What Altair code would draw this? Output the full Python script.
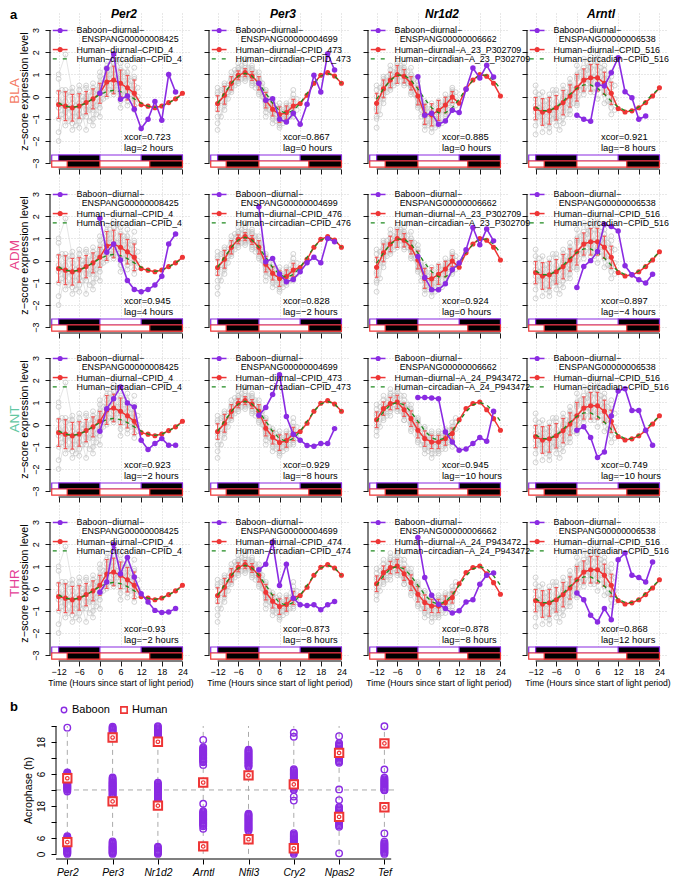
import altair as alt
import pandas as pd

FONT = "Liberation Sans"
PURPLE = "#8A2BE2"
RED = "#EE3535"
RED_ERR = "#F05A5A"
GREEN = "#1F8A1F"
GREY_PT = "#C2C2C2"
GREY_LN = "#DADADA"
GRID = "#C4C4C4"

# ---------------- panel a data ----------------
regions = ["BLA", "ADM", "ANT", "THR"]
region_colors = ["#F47A63", "#E8458B", "#62C7A2", "#E33D96"]
genes = ["Per2", "Per3", "Nr1d2", "Arntl"]
baboon_ids = ["ENSPANG00000008425", "ENSPANG00000004699", "ENSPANG00000006662", "ENSPANG00000006538"]
human_ids = [
    ["CPID_4", "CPID_473", "A_23_P302709", "CPID_516"],
    ["CPID_4", "CPID_476", "A_23_P302709", "CPID_516"],
    ["CPID_4", "CPID_473", "A_24_P943472", "CPID_516"],
    ["CPID_4", "CPID_474", "A_24_P943472", "CPID_516"],
]
probe_alias = {"CPID_476": "CPID_473", "CPID_474": "CPID_473"}

hours_h = [-12, -10, -8, -6, -4, -2, 0, 2, 4, 6, 8, 10]
hours_odd = [-11, -9, -7, -5, -3, -1, 1, 3, 5, 7, 9, 11]
hours_fit = [-12, -10, -8, -6, -4, -2, 0, 2, 4, 6, 8, 10, 12, 14, 16, 18, 20, 22, 24]
hours_b = [0, 2, 4, 6, 8, 10, 12, 14, 16, 18, 20, 22]
x_ticks = [-12, -6, 0, 6, 12, 18, 24]
y_ticks = [-3, -2, -1, 0, 1, 2, 3]

human_mean = {
    "CPID_4": [-0.36, -0.43, -0.5, -0.42, -0.27, -0.1, 0.15, 0.66, 0.75, 0.6, 0.4, 0.15],
    "CPID_473": [-0.31, 0.06, 0.6, 0.96, 1.08, 0.93, 0.6, -0.16, -0.57, -0.81, -0.72, -0.42],
    "A_23_P302709": [-0.3, 0.35, 0.75, 1.0, 0.92, 0.6, 0.03, -0.8, -0.82, -0.62, -0.38, -0.02],
    "A_24_P943472": [0.22, 0.72, 0.95, 1.02, 0.67, 0.27, -0.25, -0.63, -0.78, -0.78, -0.63, -0.4],
    "CPID_516": [-0.54, -0.69, -0.64, -0.5, -0.27, 0.03, 0.4, 0.75, 0.85, 0.85, 0.6, 0.15],
}
human_sd = {
    "CPID_4": [0.62, 0.65, 0.6, 0.55, 0.5, 0.45, 0.45, 0.65, 0.62, 0.6, 0.55, 0.6],
    "CPID_473": [0.35, 0.4, 0.3, 0.2, 0.18, 0.2, 0.3, 0.35, 0.3, 0.35, 0.3, 0.3],
    "A_23_P302709": [0.45, 0.4, 0.35, 0.4, 0.3, 0.3, 0.4, 0.45, 0.5, 0.45, 0.35, 0.25],
    "A_24_P943472": [0.35, 0.3, 0.28, 0.3, 0.3, 0.35, 0.35, 0.35, 0.3, 0.3, 0.3, 0.25],
    "CPID_516": [0.5, 0.6, 0.6, 0.55, 0.55, 0.5, 0.6, 0.5, 0.6, 0.6, 0.5, 0.5],
}
human_fit = {
    "CPID_4": [-0.29, -0.43, -0.48, -0.43, -0.29, -0.1, 0.09, 0.23, 0.28, 0.23, 0.09, -0.1, -0.29, -0.43, -0.48, -0.43, -0.29, -0.1, 0.09],
    "CPID_473": [-0.3, 0.15, 0.6, 0.93, 1.05, 0.93, 0.6, 0.15, -0.3, -0.63, -0.75, -0.63, -0.3, 0.15, 0.6, 0.93, 1.05, 0.93, 0.6],
    "A_23_P302709": [-0.11, 0.35, 0.74, 0.97, 0.97, 0.74, 0.35, -0.11, -0.5, -0.73, -0.73, -0.5, -0.11, 0.35, 0.74, 0.97, 0.97, 0.74, 0.35],
    "A_24_P943472": [0.15, 0.58, 0.89, 1.0, 0.89, 0.58, 0.15, -0.28, -0.59, -0.7, -0.59, -0.28, 0.15, 0.58, 0.89, 1.0, 0.89, 0.58, 0.15],
    "CPID_516": [-0.47, -0.63, -0.63, -0.47, -0.21, 0.11, 0.37, 0.53, 0.53, 0.37, 0.11, -0.21, -0.47, -0.63, -0.63, -0.47, -0.21, 0.11, 0.37],
}
grey_sets = {
    "CPID_4": [
        [0.2, -0.9, -0.3, -1.1, 0.4, -0.6, 0.9, 1.6, 0.3, 1.2, -0.2, 0.8],
        [-1.0, 0.3, -1.2, 0.1, -0.9, 0.6, -0.5, 0.2, 1.5, 0.1, 1.1, -0.4],
        [-0.5, -0.2, 0.4, -0.8, -0.1, -0.3, 0.5, 1.1, 0.9, -0.2, 0.6, 1.3],
        [0.8, -1.3, -0.7, -0.3, -1.5, 0.2, -0.2, 0.5, 1.8, 0.9, -0.4, 0.2],
        [-1.6, 0.1, -0.9, 0.5, 0.0, -1.0, 0.6, 0.0, 0.6, 1.5, 0.9, -0.6],
        [-0.2, -0.7, -1.5, -0.6, -0.4, 0.4, -0.9, 1.3, 0.1, 0.5, 0.2, 0.5],
        [1.0, 1.9, 0.2, -1.4, -0.6, -0.5, 1.1, 0.8, 1.2, -0.5, 1.4, -0.1],
        [-2.0, -0.6, -0.1, 0.3, 0.5, -1.3, 0.2, 0.6, 0.2, 1.0, 0.0, 0.9],
    ],
    "CPID_473": [
        [-0.9, 0.5, 0.9, 1.3, 1.5, 1.2, 0.2, -0.5, -0.9, -1.3, -0.3, -0.8],
        [0.2, -0.4, 0.3, 0.7, 0.8, 1.4, 0.9, 0.2, -0.2, -0.6, -1.1, -0.1],
        [-0.6, 0.3, 1.1, 1.2, 0.9, 0.6, 0.4, -0.4, -1.0, -0.7, -0.6, -0.7],
        [-1.2, -0.3, 0.4, 0.8, 1.3, 1.0, 1.1, 0.3, -0.6, -1.2, -0.9, 0.1],
        [0.1, 0.6, 0.6, 1.5, 1.1, 0.7, 0.5, -0.7, -0.3, -0.5, -0.5, -0.5],
        [-0.4, -0.6, 0.8, 0.9, 1.7, 0.9, 0.1, 0.0, -1.2, -0.9, -1.0, -0.9],
        [-1.5, 0.0, 0.2, 1.1, 0.7, 1.3, 0.8, -0.3, -0.5, -1.4, -0.4, 0.3],
        [0.4, 0.2, 0.5, 0.6, 1.2, 0.5, 0.7, -0.9, -0.7, -0.3, -0.8, -0.3],
    ],
    "A_23_P302709": [
        [-0.9, 0.8, 1.2, 1.4, 1.3, 0.9, -0.4, -1.2, -1.4, -1.0, 0.1, -0.5],
        [0.3, -0.1, 0.4, 0.6, 1.5, 0.2, 0.5, -0.4, -0.5, -1.3, -0.8, 0.4],
        [-0.6, 0.5, 1.0, 1.2, 0.6, 1.0, 0.2, -1.3, -1.1, -0.3, -0.5, -0.3],
        [-1.4, 0.1, 0.6, 1.5, 0.9, 0.4, -0.3, -0.6, -1.6, -0.8, -0.1, 0.2],
        [0.0, 0.9, 0.3, 0.8, 1.2, 1.3, 0.4, -0.9, -0.3, -0.5, -0.9, -0.6],
        [-0.5, -0.3, 1.4, 0.7, 0.5, 0.5, -0.5, -0.2, -0.9, -1.1, -0.3, 0.3],
        [-1.0, 0.6, 0.8, 1.1, 1.1, 0.1, 0.7, -1.5, -0.7, -0.2, -0.6, -0.2],
        [0.5, 0.2, 0.5, 0.9, 0.7, 0.8, -0.1, -0.5, -1.2, -0.9, -0.2, 0.1],
    ],
    "A_24_P943472": [
        [0.7, 1.1, 1.3, 1.5, 0.2, 0.6, -0.7, -1.0, -1.3, -0.4, -0.9, 0.1],
        [-0.3, 0.3, 0.6, 0.7, 1.1, -0.2, 0.2, -0.2, -0.5, -1.2, -0.3, -0.8],
        [0.4, 0.9, 1.4, 1.2, 0.9, 0.7, -0.5, -1.1, -0.9, -0.6, -1.1, -0.2],
        [-0.5, 0.6, 0.8, 0.8, 0.4, 0.1, 0.3, -0.4, -1.5, -0.9, -0.4, -0.6],
        [0.9, 1.3, 0.7, 1.6, 1.3, 0.9, -0.2, -0.9, -0.3, -1.3, -0.2, -0.1],
        [0.1, 0.2, 1.1, 0.6, 0.5, -0.3, -0.8, -0.6, -0.7, -0.5, -0.8, -1.0],
        [-0.1, 0.8, 1.6, 1.3, 0.8, 0.4, 0.1, -0.1, -1.1, -0.3, -0.6, -0.5],
        [0.5, 0.5, 0.4, 1.0, 0.2, 0.0, -0.4, -1.3, -0.4, -1.1, -0.5, -0.3],
    ],
    "CPID_516": [
        [0.2, -1.2, -0.1, -1.0, 0.5, -0.6, 1.0, 1.3, 0.2, 1.6, 0.1, 0.9],
        [-1.3, -0.2, -1.4, 0.1, -0.9, 0.8, -0.3, 0.4, 1.5, 0.3, 1.2, -0.5],
        [-0.7, -0.9, 0.1, -0.6, -0.1, -0.2, 0.8, 1.7, 0.9, 0.6, 1.4, 0.6],
        [0.5, -1.6, -0.9, -0.2, -1.2, 0.5, -0.4, 0.3, 1.8, 1.2, -0.3, -0.2],
        [-1.7, 0.2, -1.2, -0.9, 0.3, -0.8, 0.9, 0.9, 0.4, 1.9, 0.8, 1.1],
        [-0.1, -0.6, -0.3, -1.3, -0.5, 0.6, 0.2, 1.1, 1.3, -0.1, 0.2, -0.8],
        [-1.0, -0.4, -1.6, 0.3, 0.0, -0.4, 1.4, 0.1, 0.7, 1.0, 1.0, 0.4],
        [-0.4, -1.1, -0.5, -0.8, -0.7, 0.2, 0.0, 0.8, 0.6, 0.5, 0.6, -0.3],
    ],
}
grey_sets_odd = {
    "CPID_4": [
        [-0.8, 0.2, -0.9, -0.2, -0.6, 0.3, 0.4, 1.0, 0.8, 0.1, 0.7, -0.3],
        [0.3, -1.1, -0.4, -0.9, 0.2, -0.4, -0.1, 1.4, 0.5, 1.1, -0.1, 0.4],
        [-0.4, -0.5, -1.3, 0.0, -1.1, -0.8, 0.8, 0.3, 1.6, 0.7, 0.3, 0.0],
    ],
    "CPID_473": [
        [-0.2, 0.4, 0.9, 1.4, 1.0, 0.7, 0.3, -0.3, -0.8, -1.0, -0.6, -0.1],
        [-0.9, -0.1, 0.5, 0.8, 1.3, 1.1, 0.0, -0.6, -1.1, -0.7, -0.9, -0.6],
        [0.3, 0.2, 1.2, 1.0, 0.9, 0.4, 0.6, -0.1, -0.4, -1.2, -0.4, -0.4],
    ],
    "A_23_P302709": [
        [-0.1, 0.6, 0.9, 1.3, 0.8, 0.4, -0.6, -1.0, -0.7, -0.6, -0.3, 0.2],
        [0.4, 0.2, 1.1, 0.9, 1.1, 0.8, -0.2, -1.3, -1.0, -1.2, -0.6, -0.4],
        [-0.8, 0.9, 0.5, 1.4, 0.6, 0.1, -0.9, -0.7, -1.4, -0.4, -0.1, 0.0],
    ],
    "A_24_P943472": [
        [0.5, 0.7, 1.2, 0.9, 0.5, -0.1, -0.5, -0.8, -1.0, -0.7, -0.3, 0.3],
        [-0.1, 1.0, 0.9, 1.3, 0.7, 0.3, -0.2, -1.2, -0.6, -1.1, -0.8, -0.2],
        [0.8, 0.4, 1.3, 0.6, 0.9, 0.0, -0.9, -0.5, -1.3, -0.4, -0.6, 0.1],
    ],
    "CPID_516": [
        [-0.9, -0.2, -1.0, -0.4, 0.2, 0.3, 0.5, 1.2, 0.9, 0.4, 0.2, -0.1],
        [0.1, -1.3, -0.6, -1.1, -0.5, 0.0, 1.1, 0.6, 1.4, 0.9, 0.8, 0.5],
        [-0.5, -0.7, 0.3, -1.5, -0.8, -0.3, 0.3, 1.5, 0.2, 1.3, -0.2, -0.6],
    ],
}
baboon = [
    [  # BLA
        [0.15, 1.27, 1.93, -0.12, 0.03, -0.57, -1.44, -1.02, -0.22, -1.06, 1.0, 0.21],
        [0.6, -0.16, -0.09, -1.02, -1.14, -0.75, -1.24, -0.34, 0.96, 0.21, 1.93, 1.2],
        [0.9, -0.84, -0.75, -1.24, -1.1, -0.61, -0.72, 0.33, 1.29, 0.84, 1.41, 0.88],
        [-0.84, -1.02, -1.11, 0.55, 0.48, 1.08, 1.75, 0.22, -0.05, -1.02, -0.87],
    ],
    [  # ADM
        [1.91, 0.38, 0.75, 0.03, -0.9, -1.3, -1.4, -1.3, -1.1, -0.7, 0.75, 1.2],
        [2.43, -0.05, 0.1, -0.6, -0.95, -0.85, -0.5, -0.1, 0.15, -0.1, 1.0, 0.85],
        [0.19, -0.76, -1.31, -1.31, -1.04, -0.41, -0.11, 0.49, 1.49, 0.71, 1.43, 0.89],
        [-1.21, -0.26, 0.0, 0.41, 1.64, 1.54, 1.34, -0.23, -0.64, -0.86, -1.01, -0.61],
    ],
    [  # ANT
        [-0.3, 0.72, 1.17, 1.7, 0.97, 0.8, -0.7, -1.12, -0.85, -0.63, -0.93, -0.93],
        [0.42, 0.77, 1.36, 2.25, 0.37, -0.43, -0.7, -0.94, -0.97, -0.85, -0.85, -0.18],
        [1.22, 1.22, 1.2, 1.17, -0.33, -0.78, -1.15, -1.1, -0.85, -0.58, -0.75, 0.6],
        [-0.25, -0.1, -0.58, -1.48, -1.23, 0.39, 1.51, 1.62, 0.64, 0.64, -0.25, -0.93],
    ],
    [  # THR
        [-0.16, 0.3, 2.0, 0.67, 1.4, 0.52, -0.23, -0.6, -0.98, -1.08, -1.05, -0.9],
        [0.85, 1.1, 2.1, 0.14, 1.1, -0.43, -0.73, -0.76, -0.73, -0.95, -0.73, -0.58],
        [2.3, 0.5, -0.3, -0.7, -0.9, -1.1, -1.0, -0.6, -0.5, 0.2, 0.6, 0.7],
        [-0.2, -0.5, -1.2, -1.5, -0.9, -1.4, 1.3, 1.6, 0.6, 0.5, 0.3, 1.2],
    ],
]
xcor = [
    ["0.723", "0.867", "0.885", "0.921"],
    ["0.945", "0.828", "0.924", "0.897"],
    ["0.923", "0.929", "0.945", "0.749"],
    ["0.93", "0.873", "0.878", "0.868"],
]
lag = [[2, 0, 0, -8], [4, -2, 0, -4], [-2, -8, -10, -10], [-2, -8, -8, 12]]

bar_span = (-14, 24)
baboon_dark = [(-12, 0), (12, 24)]
human_dark = [(-9.5, 0), (14.5, 24)]

# ---------------- panel b data ----------------
b_genes = ["Per2", "Per3", "Nr1d2", "Arntl", "Nfil3", "Cry2", "Npas2", "Tef"]
baboon_acro = {
    "Per2": [0.0, 0.3, 0.6, 0.9, 1.2, 1.5, 1.8, 2.1, 2.4, 2.7, 3.0, 3.3, 3.6, 3.9, 4.2, 4.5, 4.8, 5.1, 5.4, 5.7, 6.0, 6.3, 6.6, 23.4],
    "Per3": [0.0, 0.3, 0.6, 0.9, 1.2, 1.5, 1.8, 2.1, 2.4, 2.7, 3.0, 3.4, 3.8, 4.2, 4.7, 21.3, 21.8, 22.2, 22.6, 23.0, 23.4, 23.8],
    "Nr1d2": [0.0, 0.3, 0.6, 0.9, 1.2, 1.5, 1.9, 2.3, 2.7, 19.6, 20.0, 20.4, 20.8, 21.2, 21.6, 22.0, 22.4, 22.8, 23.2, 23.6, 23.9],
    "Arntl": [9.4, 10.4, 10.8, 11.2, 11.6, 12.0, 12.4, 12.8, 13.2, 13.6, 14.0, 14.4, 14.8, 15.2, 15.6, 16.0, 18.8],
    "Nfil3": [8.7, 9.1, 9.5, 9.9, 10.3, 10.7, 11.1, 11.5, 11.9, 12.3, 12.7, 13.1, 13.5, 13.9, 14.3, 14.7, 15.1],
    "Cry2": [0.0, 0.4, 0.8, 1.2, 1.6, 2.0, 2.4, 2.8, 3.2, 3.6, 4.0, 4.4, 4.8, 5.2, 5.6, 6.0, 6.4, 6.8, 7.3, 7.8, 20.0, 21.5],
    "Npas2": [0.2, 10.2, 10.7, 11.2, 11.7, 12.2, 12.7, 13.2, 13.7, 14.2, 14.7, 15.2, 15.7, 16.2, 16.7, 17.2, 17.6, 20.2],
    "Tef": [0.0, 0.4, 0.8, 1.2, 1.6, 2.0, 2.4, 2.8, 3.2, 3.6, 4.0, 4.6, 7.7, 23.9],
}
human_acro = [4.4, 19.7, 18.1, 2.8, 5.5, 2.1, 13.9, 17.5]
b_y_ticks = [0, 6, 12, 18, 24, 30, 36, 42, 48]
b_y_labels = ["0", "6", "", "18", "", "6", "", "18", ""]

# ---------------- layout ----------------
PXY = 22.2
PXH = 3.44
W, H = 141, 156
XMIN = -14.5
XMAX = XMIN + W / PXH
YMIN = -3.26
YMAX = YMIN + H / PXY
COL_SP, ROW_SP = 18, 8

WB = 345
PXB_X = 45.3
XB_MIN = 0.618
XB_MAX = XB_MIN + WB / PXB_X
PXB = 2.667
YB_MIN = -1.92
YB_MAX = 57.4
HB = round((YB_MAX - YB_MIN) * PXB)
YB_AX = XB_MIN + 6 / PXB_X
B_SPACING = 13

LEG_FS = 8.9
STAT_FS = 9.4

xs = alt.Scale(domain=[XMIN, XMAX], nice=False, zero=False)
ys = alt.Scale(domain=[YMIN, YMAX], nice=False, zero=False)
MINUS = "\u2212"


def fmt_lag(v):
    return (MINUS if v < 0 else "") + str(abs(v))


def panel(r, c):
    hid = human_ids[r][c]
    key = probe_alias.get(hid, hid)
    mean, sd, fit = human_mean[key], human_sd[key], human_fit[key]
    bab = baboon[r][c]

    ax = alt.Axis(values=x_ticks, grid=True, gridDash=[1, 2], gridColor=GRID, gridWidth=0.8,
                  domain=False, ticks=True, tickSize=5, tickColor="black", tickWidth=0.9,
                  labels=(r == 3), labelFontSize=9, labelPadding=1.5, labelColor="black",
                  title=("Time (Hours since start of light period)" if r == 3 else None),
                  titleFontSize=8.6, titleFontWeight="normal", titlePadding=2, titleColor="black")
    ay = alt.Axis(values=y_ticks, grid=True, gridDash=[1, 2], gridColor=GRID, gridWidth=0.8,
                  domain=False, ticks=True, tickSize=5, tickColor="black", tickWidth=0.9,
                  labels=(c == 0), labelFontSize=9, labelPadding=5, labelColor="black",
                  labelAngle=-90, labelAlign="center", labelBaseline="bottom",
                  title=("z" + MINUS + "score expression level" if c == 0 else None),
                  titleFontSize=10.8, titleFontWeight="normal", titlePadding=2, titleColor="black")

    def X(f="t"):
        return alt.X(f"{f}:Q", scale=xs, axis=ax)

    def Y(f="v"):
        return alt.Y(f"{f}:Q", scale=ys, axis=ay)

    layers = []
    grows = [{"t": t, "v": val, "s": s} for s, ser in enumerate(grey_sets[key]) for t, val in zip(hours_h, ser)]
    grows += [{"t": t, "v": val, "s": 100 + s} for s, ser in enumerate(grey_sets_odd[key]) for t, val in zip(hours_odd, ser)]
    gdf = pd.DataFrame(grows)
    layers.append(alt.Chart(gdf).mark_line(color=GREY_LN, strokeWidth=0.7).encode(x=X(), y=Y(), detail="s:N"))
    layers.append(alt.Chart(gdf).mark_point(shape="circle", filled=False, color=GREY_PT, size=24, strokeWidth=0.7, opacity=1).encode(x=X(), y=Y()))

    rows = []
    for lo_v, hi_v, col, dark in [(-2.9, -2.63, PURPLE, baboon_dark), (-3.18, -2.9, RED, human_dark)]:
        rows.append(dict(t=bar_span[0], t2=bar_span[1], v=lo_v, v2=hi_v, col=col, fill="white"))
        for a, b in dark:
            rows.append(dict(t=a, t2=b, v=lo_v, v2=hi_v, col=col, fill="black"))
    bdf = pd.DataFrame(rows)
    layers.append(alt.Chart(bdf).mark_rect(strokeWidth=1.2).encode(
        x=X(), x2="t2:Q", y=Y(), y2="v2:Q",
        fill=alt.Fill("fill:N", scale=None), stroke=alt.Stroke("col:N", scale=None)))

    edf = pd.DataFrame({"t": hours_h, "lo": [m - s for m, s in zip(mean, sd)], "hi": [m + s for m, s in zip(mean, sd)]})
    layers.append(alt.Chart(edf).mark_rule(color=RED_ERR, strokeWidth=1.2).encode(x=X(), y=Y("lo"), y2="hi:Q"))
    for f in ["lo", "hi"]:
        layers.append(alt.Chart(edf).transform_calculate(a="datum.t - 0.55", b="datum.t + 0.55")
                      .mark_rule(color=RED_ERR, strokeWidth=1.2).encode(x=X("a"), x2="b:Q", y=Y(f)))

    rdf = pd.DataFrame({"t": hours_h + [t + 24 for t in hours_h if t <= 0],
                        "v": mean + [m for t, m in zip(hours_h, mean) if t <= 0]})
    layers.append(alt.Chart(rdf).mark_line(color=RED, strokeWidth=1.5).encode(x=X(), y=Y()))
    layers.append(alt.Chart(rdf).mark_circle(color=RED, size=26, opacity=1).encode(x=X(), y=Y()))

    fdf = pd.DataFrame({"t": hours_fit, "v": fit})
    layers.append(alt.Chart(fdf).mark_line(color=GREEN, strokeWidth=1.3, strokeDash=[4, 4]).encode(x=X(), y=Y()))

    pdf = pd.DataFrame({"t": hours_b[:len(bab)], "v": bab})
    layers.append(alt.Chart(pdf).mark_line(color=PURPLE, strokeWidth=1.6).encode(x=X(), y=Y()))
    layers.append(alt.Chart(pdf).mark_circle(color=PURPLE, size=30, opacity=1).encode(x=X(), y=Y()))

    # legend
    ldf = pd.DataFrame({"t": [-13.7, -13.7], "t2": [-9.4, -9.4], "v": [2.98, 2.12], "col": [PURPLE, RED]})
    layers.append(alt.Chart(ldf).mark_rule(strokeWidth=1.5).encode(x=X(), x2="t2:Q", y=Y(), color=alt.Color("col:N", scale=None)))
    layers.append(alt.Chart(ldf).transform_calculate(m="(datum.t + datum.t2) / 2").mark_circle(size=26, opacity=1)
                  .encode(x=X("m"), y=Y(), color=alt.Color("col:N", scale=None)))
    gl = pd.DataFrame({"t": [-13.7], "t2": [-9.4], "v": [1.70]})
    layers.append(alt.Chart(gl).mark_rule(color=GREEN, strokeWidth=1.3, strokeDash=[4, 6]).encode(x=X(), x2="t2:Q", y=Y()))
    tdf = pd.DataFrame({
        "t": [-6.8, -5.3, -6.8, -6.8],
        "v": [2.98, 2.58, 2.12, 1.70],
        "text": ["Baboon" + MINUS + "diurnal" + MINUS, baboon_ids[c],
                 "Human" + MINUS + "diurnal" + MINUS + hid, "Human" + MINUS + "circadian" + MINUS + hid],
    })
    layers.append(alt.Chart(tdf).mark_text(align="left", baseline="middle", fontSize=LEG_FS, color="black")
                  .encode(x=X(), y=Y(), text="text:N"))
    sdf = pd.DataFrame({"t": [7, 7], "v": [-1.81, -2.33],
                        "text": ["xcor=" + xcor[r][c], "lag=" + fmt_lag(lag[r][c]) + " hours"]})
    layers.append(alt.Chart(sdf).mark_text(align="left", baseline="middle", fontSize=STAT_FS, color="black")
                  .encode(x=X(), y=Y(), text="text:N"))

    # axis lines
    yl = pd.DataFrame({"t": [XMIN], "v": [-3], "v2": [3]})
    layers.append(alt.Chart(yl).mark_rule(color="black", strokeWidth=1).encode(x=X(), y=Y(), y2="v2:Q"))
    xl = pd.DataFrame({"t": [-12], "t2": [24], "v": [YMIN]})
    layers.append(alt.Chart(xl).mark_rule(color="black", strokeWidth=1).encode(x=X(), x2="t2:Q", y=Y()))

    one = pd.DataFrame({"k": [0]})
    if c == 0:
        layers.append(alt.Chart(one).mark_text(angle=270, fontSize=13.5, color=region_colors[r], baseline="middle", align="center")
                      .encode(x=alt.value(-35), y=alt.value(H / 2), text=alt.value(regions[r])))
    if r == 0:
        layers.append(alt.Chart(one).mark_text(fontSize=12, fontWeight="bold", fontStyle="italic", baseline="middle", align="center")
                      .encode(x=alt.value(74), y=alt.value(1), text=alt.value(genes[c])))
    if r == 0 and c == 0:
        layers.append(alt.Chart(one).mark_text(fontSize=13, fontWeight="bold", baseline="middle", align="left")
                      .encode(x=alt.value(-40), y=alt.value(2), text=alt.value("a")))
    return alt.layer(*layers).properties(width=W, height=H)


def panel_b():
    xsb = alt.Scale(domain=[XB_MIN, XB_MAX], nice=False, zero=False)
    ysb = alt.Scale(domain=[YB_MIN, YB_MAX], nice=False, zero=False)
    gene_expr = "[" + ",".join("'" + g + "'" for g in b_genes) + "][datum.value - 1]"
    lab_expr = "{" + ",".join("'" + str(v) + "':'" + l + "'" for v, l in zip(b_y_ticks, b_y_labels)) + "}[datum.value + '']"
    axb = alt.Axis(values=list(range(1, len(b_genes) + 1)), labelExpr=gene_expr, grid=False, domain=False,
                   ticks=True, tickSize=5, tickColor="black", labelFontSize=10.3, labelFontStyle="italic",
                   labelPadding=3, labelColor="black", title=None)
    ayb = alt.Axis(values=b_y_ticks, labelExpr=lab_expr, grid=False, domain=False, ticks=True, tickSize=5,
                   tickColor="black", labelFontSize=10, labelAngle=-90, labelAlign="center", labelBaseline="bottom",
                   labelPadding=5, labelColor="black", offset=-6, title="Acrophase (h)", titleFontSize=10.7,
                   titleFontWeight="normal", titleColor="black", titlePadding=3, titleY=89)

    def X(f="x"):
        return alt.X(f"{f}:Q", scale=xsb, axis=axb)

    def Y(f="v"):
        return alt.Y(f"{f}:Q", scale=ysb, axis=ayb)

    layers = []
    vdf = pd.DataFrame({"x": list(range(1, len(b_genes) + 1)), "v": [0] * len(b_genes), "v2": [48] * len(b_genes)})
    layers.append(alt.Chart(vdf).mark_rule(color="#AAAAAA", strokeDash=[5, 4], strokeWidth=1).encode(x=X(), y=Y(), y2="v2:Q"))
    hdf = pd.DataFrame({"x": [YB_AX], "x2": [XB_MAX], "v": [24]})
    layers.append(alt.Chart(hdf).mark_rule(color="#AAAAAA", strokeDash=[5, 4], strokeWidth=1).encode(x=X(), x2="x2:Q", y=Y()))
    brows = []
    for gi, g in enumerate(b_genes):
        for v in baboon_acro[g]:
            brows.append({"x": gi + 1, "v": v})
            brows.append({"x": gi + 1, "v": v + 24})
    layers.append(alt.Chart(pd.DataFrame(brows)).mark_point(shape="circle", filled=False, color=PURPLE, size=42,
                                                            strokeWidth=1.4, opacity=1).encode(x=X(), y=Y()))
    hrows = []
    for gi, v in enumerate(human_acro):
        hrows.append({"x": gi + 1, "v": v})
        hrows.append({"x": gi + 1, "v": v + 24})
    hdf2 = pd.DataFrame(hrows)
    layers.append(alt.Chart(hdf2).mark_point(shape="square", filled=True, fill="white", stroke=RED, strokeWidth=2,
                                             size=70, opacity=1).encode(x=X(), y=Y()))
    layers.append(alt.Chart(hdf2).mark_point(shape="circle", filled=False, color=RED, strokeWidth=1.2,
                                             size=12, opacity=1).encode(x=X(), y=Y()))
    yl = pd.DataFrame({"x": [YB_AX], "v": [0], "v2": [48]})
    layers.append(alt.Chart(yl).mark_rule(color="black", strokeWidth=1).encode(x=X(), y=Y(), y2="v2:Q"))
    xl = pd.DataFrame({"x": [YB_AX], "x2": [8.15], "v": [YB_MIN]})
    layers.append(alt.Chart(xl).mark_rule(color="black", strokeWidth=1.2).encode(x=X(), x2="x2:Q", y=Y()))

    one = pd.DataFrame({"k": [0]})
    layers.append(alt.Chart(one).mark_text(fontSize=13, fontWeight="bold", baseline="middle", align="left")
                  .encode(x=alt.value(-40), y=alt.value(6), text=alt.value("b")))
    layers.append(alt.Chart(one).mark_point(shape="circle", filled=False, color=PURPLE, size=30, strokeWidth=1.4, opacity=1)
                  .encode(x=alt.value(14), y=alt.value(9)))
    layers.append(alt.Chart(one).mark_text(fontSize=11, baseline="middle", align="left")
                  .encode(x=alt.value(22), y=alt.value(9), text=alt.value("Baboon")))
    layers.append(alt.Chart(one).mark_point(shape="square", filled=True, fill="white", stroke=RED, strokeWidth=1.6, size=40, opacity=1)
                  .encode(x=alt.value(74), y=alt.value(9)))
    layers.append(alt.Chart(one).mark_text(fontSize=11, baseline="middle", align="left")
                  .encode(x=alt.value(82), y=alt.value(9), text=alt.value("Human")))
    return alt.layer(*layers).properties(width=WB, height=HB)


panels = [panel(r, c) for r in range(4) for c in range(4)]
grid = alt.concat(*panels, columns=4, spacing={"row": ROW_SP, "column": COL_SP}, bounds="flush")
chart = alt.vconcat(grid, panel_b(), spacing=B_SPACING).properties(
    padding={"left": 0, "top": 0, "right": 0, "bottom": 0}
).configure(font=FONT).configure_view(stroke=None)

chart.save("out.html", embed_options={"renderer": "svg", "actions": False})
